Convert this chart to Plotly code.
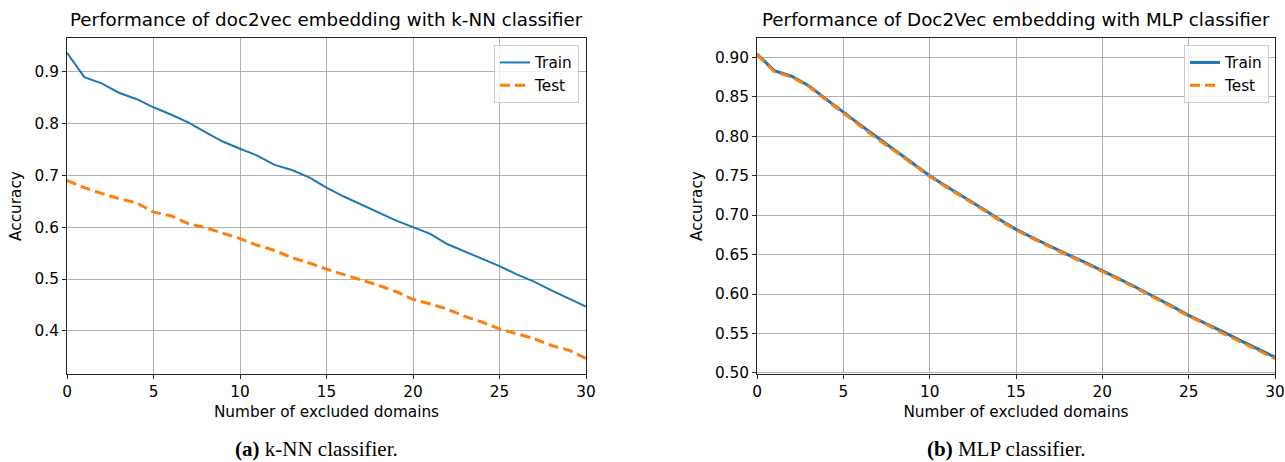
import plotly.graph_objects as go

# ---------------- data ----------------
excluded = list(range(31))

knn_train = [0.936, 0.889, 0.877, 0.859, 0.847, 0.831, 0.817, 0.802, 0.783, 0.765,
             0.751, 0.738, 0.720, 0.710, 0.696, 0.676, 0.659, 0.644, 0.628, 0.613,
             0.600, 0.587, 0.567, 0.553, 0.538, 0.525, 0.509, 0.495, 0.478, 0.462,
             0.447]
knn_test = [0.690, 0.676, 0.665, 0.655, 0.647, 0.629, 0.622, 0.607, 0.599, 0.588,
            0.578, 0.565, 0.555, 0.541, 0.531, 0.519, 0.509, 0.498, 0.488, 0.476,
            0.461, 0.452, 0.442, 0.428, 0.417, 0.404, 0.395, 0.385, 0.372, 0.363,
            0.347]

mlp_train = [0.904, 0.883, 0.876, 0.864, 0.847, 0.830, 0.814, 0.798, 0.782, 0.766,
             0.750, 0.736, 0.723, 0.709, 0.695, 0.682, 0.671, 0.660, 0.650, 0.640,
             0.630, 0.619, 0.608, 0.597, 0.585, 0.573, 0.563, 0.552, 0.541, 0.531,
             0.520]
mlp_test = [0.903, 0.882, 0.875, 0.863, 0.846, 0.829, 0.813, 0.796, 0.781, 0.765,
            0.749, 0.735, 0.722, 0.708, 0.694, 0.681, 0.670, 0.659, 0.649, 0.639,
            0.629, 0.618, 0.607, 0.596, 0.584, 0.572, 0.562, 0.550, 0.540, 0.529,
            0.518]

left_title = "Performance of doc2vec embedding with k-NN classifier"
right_title = "Performance of Doc2Vec embedding with MLP classifier"
x_label = "Number of excluded domains"
y_label = "Accuracy"
caption_a = "<b>(a)</b> k-NN classifier."
caption_b = "<b>(b)</b> MLP classifier."

x_ticks = [0, 5, 10, 15, 20, 25, 30]
left_y_ticks = [0.4, 0.5, 0.6, 0.7, 0.8, 0.9]
right_y_ticks = [0.50, 0.55, 0.60, 0.65, 0.70, 0.75, 0.80, 0.85, 0.90]

# ---------------- styling ----------------
W, H = 1285, 462
BLUE = "#1f77b4"
ORANGE = "#ff7f0e"
FONT = "DejaVu Sans"
FS = 15.3
TFS = 18.3

fig = go.Figure()

fig.add_trace(go.Scatter(x=excluded, y=knn_train, mode="lines", name="Train",
                         line=dict(color=BLUE, width=2), xaxis="x", yaxis="y",
                         legend="legend"))
fig.add_trace(go.Scatter(x=excluded, y=knn_test, mode="lines", name="Test",
                         line=dict(color=ORANGE, width=3, dash="10px,5px"),
                         xaxis="x", yaxis="y", legend="legend"))
fig.add_trace(go.Scatter(x=excluded, y=mlp_train, mode="lines", name="Train",
                         line=dict(color=BLUE, width=3), xaxis="x2", yaxis="y2",
                         legend="legend2"))
fig.add_trace(go.Scatter(x=excluded, y=mlp_test, mode="lines", name="Test",
                         line=dict(color=ORANGE, width=3, dash="10px,5px"),
                         xaxis="x2", yaxis="y2", legend="legend2"))

ydom = [1 - 374 / H, 1 - 38 / H]
x1dom = [67 / W, 586 / W]
x2dom = [757 / W, 1275 / W]

common_axis = dict(showline=True, linecolor="#222222", linewidth=1, mirror=True,
                   showgrid=True, gridcolor="#b0b0b0", gridwidth=1,
                   ticks="outside", ticklen=4, tickcolor="#222222",
                   tickfont=dict(family=FONT, size=FS, color="black"),
                   zeroline=False, automargin=False)

fig.update_layout(
    width=W, height=H,
    margin=dict(l=0, r=0, t=0, b=0, autoexpand=False),
    paper_bgcolor="white", plot_bgcolor="white",
    font=dict(family=FONT, size=FS, color="black"),
    xaxis=dict(domain=x1dom, anchor="y", range=[0, 30], tickvals=x_ticks,
               title=dict(text=x_label, standoff=5, font=dict(size=FS)),
               **common_axis),
    yaxis=dict(domain=ydom, anchor="x", range=[0.317, 0.9645],
               tickvals=left_y_ticks, tickformat=".1f",
               title=dict(text=y_label, standoff=9, font=dict(size=FS)),
               **common_axis),
    xaxis2=dict(domain=x2dom, anchor="y2", range=[0, 30], tickvals=x_ticks,
                title=dict(text=x_label, standoff=5, font=dict(size=FS)),
                **common_axis),
    yaxis2=dict(domain=ydom, anchor="x2", range=[0.4987, 0.9244],
                tickvals=right_y_ticks, tickformat=".2f",
                title=dict(text=y_label, standoff=8, font=dict(size=FS)),
                **common_axis),
    legend=dict(x=579 / W, y=1 - 45 / H, xanchor="right", yanchor="top",
                bgcolor="rgba(255,255,255,0.8)", bordercolor="#cccccc",
                borderwidth=1, font=dict(family=FONT, size=FS),
                tracegroupgap=0),
    legend2=dict(x=1269 / W, y=1 - 45 / H, xanchor="right", yanchor="top",
                 bgcolor="rgba(255,255,255,0.8)", bordercolor="#cccccc",
                 borderwidth=1, font=dict(family=FONT, size=FS),
                 tracegroupgap=0),
    showlegend=True,
)

annotations = [
    dict(text=left_title, x=(x1dom[0] + x1dom[1]) / 2, y=1 - 20 / H,
         xref="paper", yref="paper", xanchor="center", yanchor="middle",
         showarrow=False, font=dict(family=FONT, size=TFS, color="black")),
    dict(text=right_title, x=(x2dom[0] + x2dom[1]) / 2, y=1 - 20 / H,
         xref="paper", yref="paper", xanchor="center", yanchor="middle",
         showarrow=False, font=dict(family=FONT, size=TFS, color="black")),
    dict(text=caption_a, x=316 / W, y=1 - 449 / H,
         xref="paper", yref="paper", xanchor="center", yanchor="middle",
         showarrow=False, font=dict(family="Liberation Serif", size=21, color="black")),
    dict(text=caption_b, x=1006 / W, y=1 - 449 / H,
         xref="paper", yref="paper", xanchor="center", yanchor="middle",
         showarrow=False, font=dict(family="Liberation Serif", size=21, color="black")),
]
fig.update_layout(annotations=annotations)

fig.write_html("out.html")
